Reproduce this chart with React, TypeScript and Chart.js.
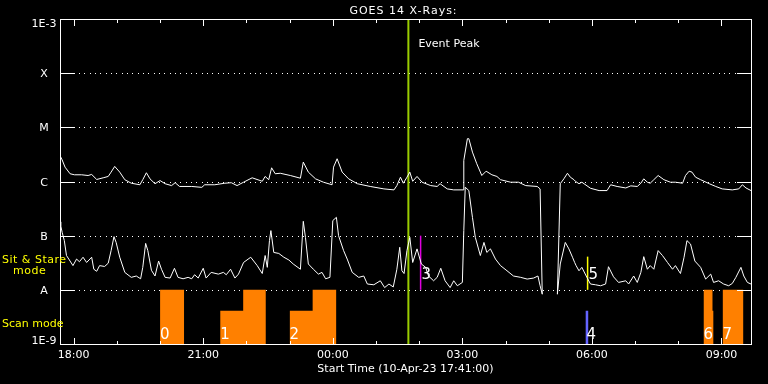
import React, { useEffect, useRef } from 'react';
import { Chart, registerables } from 'chart.js';

Chart.register(...registerables);

const FONT = '"DejaVu Sans", "Liberation Sans", sans-serif';

// ---- Axis definitions (minutes after start 10-Apr-23 17:41:00) ----
const xMin = 0;
const xMax = 960;
const xHourTicks = [19, 79, 139, 199, 259, 319, 379, 439, 499, 559, 619, 679, 739, 799, 859, 919];
const xMajorTicks = [19, 199, 379, 559, 739, 919];
const xMajorLabels = ['18:00', '21:00', '00:00', '03:00', '06:00', '09:00'];
const yTickValues = [1e-9, 1e-8, 1e-7, 1e-6, 1e-5, 1e-4, 1e-3];
const yTickLabels = ['1E-9', 'A', 'B', 'C', 'M', 'X', '1E-3'];
const titleText = 'GOES 14 X-Rays:';
const xTitleText = 'Start Time (10-Apr-23 17:41:00)';

// ---- Long channel (1-8 A) ----
const longTime = [0, 3, 7, 14, 20, 30, 39, 44, 51, 60, 67, 71, 76, 83, 90, 99, 111, 115, 120, 125, 132, 139, 146, 155, 160, 166, 183, 197, 201, 215, 229, 238, 246, 255, 267, 281, 285, 290, 294, 299, 306, 320, 334, 338, 345, 355, 366, 378, 380, 385, 392, 401, 413, 431, 450, 464, 468, 473, 477, 482, 486, 490, 496, 503, 515, 524, 528, 538, 547, 560, 561, 566, 568, 573, 579, 586, 592, 600, 607, 612, 626, 637, 647, 663, 667, 670, 680, 691, 695, 700, 705, 709, 714, 716, 721, 725, 737, 749, 760, 765, 774, 786, 793, 802, 807, 811, 816, 820, 825, 831, 839, 848, 855, 865, 869, 874, 878, 883, 890, 902, 911, 920, 934, 943, 948, 953, 960];
const longFlux = [3.0e-6, 2.5e-6, 1.84e-6, 1.39e-6, 1.33e-6, 1.33e-6, 1.29e-6, 1.35e-6, 1.09e-6, 1.17e-6, 1.24e-6, 1.49e-6, 1.9e-6, 1.49e-6, 1.08e-6, 0.93e-6, 0.87e-6, 1.08e-6, 1.45e-6, 1.12e-6, 0.91e-6, 1.04e-6, 0.91e-6, 0.84e-6, 0.95e-6, 0.81e-6, 0.81e-6, 0.78e-6, 0.87e-6, 0.87e-6, 0.93e-6, 0.95e-6, 0.84e-6, 0.97e-6, 1.17e-6, 1.01e-6, 1.24e-6, 1.08e-6, 1.79e-6, 1.39e-6, 1.42e-6, 1.29e-6, 1.15e-6, 2.28e-6, 1.49e-6, 1.12e-6, 0.97e-6, 0.87e-6, 1.84e-6, 2.63e-6, 1.49e-6, 1.12e-6, 0.91e-6, 0.81e-6, 0.73e-6, 0.7e-6, 0.84e-6, 1.2e-6, 0.93e-6, 1.2e-6, 1.49e-6, 1.01e-6, 1.24e-6, 0.97e-6, 0.84e-6, 0.81e-6, 0.91e-6, 0.73e-6, 0.7e-6, 0.7e-6, 2.45e-6, 6.17e-6, 6.17e-6, 3.49e-6, 2.13e-6, 1.29e-6, 1.55e-6, 1.33e-6, 1.24e-6, 1.08e-6, 0.97e-6, 0.97e-6, 0.84e-6, 0.81e-6, 0.73e-6, 8.3e-9, null, 8.3e-9, 0.91e-6, 1.12e-6, 1.42e-6, 1.2e-6, 1.08e-6, 1.01e-6, 0.91e-6, 0.97e-6, 0.75e-6, 0.68e-6, 0.68e-6, 0.87e-6, 0.81e-6, 0.76e-6, 0.83e-6, 0.81e-6, 0.93e-6, 1.12e-6, 0.97e-6, 0.93e-6, 1.08e-6, 1.29e-6, 1.08e-6, 0.97e-6, 0.97e-6, 0.93e-6, 1.29e-6, 1.55e-6, 1.49e-6, 1.2e-6, 1.08e-6, 0.91e-6, 0.81e-6, 0.73e-6, 0.7e-6, 0.73e-6, 0.87e-6, 0.76e-6, 0.68e-6];

// ---- Short channel (0.5-4 A) ----
const shortTime = [0, 1, 3, 6, 9, 14, 18, 23, 27, 32, 37, 44, 47, 51, 55, 62, 67, 71, 75, 78, 83, 90, 99, 106, 112, 115, 119, 122, 127, 132, 137, 141, 146, 153, 159, 164, 171, 178, 183, 187, 192, 199, 203, 210, 220, 227, 231, 237, 243, 248, 255, 265, 274, 281, 285, 288, 291, 293, 297, 304, 311, 318, 324, 334, 338, 341, 345, 352, 359, 364, 369, 375, 379, 384, 387, 394, 399, 406, 415, 422, 427, 436, 445, 451, 457, 463, 468, 472, 475, 478, 482, 486, 490, 496, 502, 508, 512, 519, 524, 529, 535, 542, 547, 552, 559, 561, 563, 568, 573, 577, 584, 589, 593, 598, 605, 612, 621, 630, 640, 649, 658, 664, 667, 670, 680, 691, 695, 702, 707, 712, 715, 717, 721, 725, 732, 737, 744, 751, 758, 762, 769, 776, 786, 790, 797, 802, 807, 811, 816, 820, 825, 831, 837, 844, 851, 855, 862, 867, 871, 876, 882, 890, 897, 904, 908, 915, 922, 929, 934, 939, 946, 950, 955, 960];
const shortFlux = [1.8e-7, 1.53e-7, 1.15e-7, 0.81e-7, 0.43e-7, 0.34e-7, 0.28e-7, 0.37e-7, 0.33e-7, 0.4e-7, 0.32e-7, 0.4e-7, 0.24e-7, 0.22e-7, 0.28e-7, 0.27e-7, 0.31e-7, 0.53e-7, 0.96e-7, 0.75e-7, 0.4e-7, 0.21e-7, 0.17e-7, 0.18e-7, 0.16e-7, 0.26e-7, 0.72e-7, 0.53e-7, 0.23e-7, 0.18e-7, 0.34e-7, 0.24e-7, 0.17e-7, 0.165e-7, 0.25e-7, 0.17e-7, 0.16e-7, 0.17e-7, 0.16e-7, 0.19e-7, 0.165e-7, 0.25e-7, 0.165e-7, 0.21e-7, 0.195e-7, 0.21e-7, 0.19e-7, 0.24e-7, 0.165e-7, 0.195e-7, 0.32e-7, 0.4e-7, 0.28e-7, 0.2e-7, 0.43e-7, 0.26e-7, 0.81e-7, 1.24e-7, 0.49e-7, 0.47e-7, 0.4e-7, 0.355e-7, 0.3e-7, 0.24e-7, 1.84e-7, 0.93e-7, 0.3e-7, 0.24e-7, 0.195e-7, 0.21e-7, 0.16e-7, 0.17e-7, 1.9e-7, 2.18e-7, 1.0e-7, 0.53e-7, 0.37e-7, 0.21e-7, 0.17e-7, 0.18e-7, 0.128e-7, 0.124e-7, 0.147e-7, 0.11e-7, 0.128e-7, 0.113e-7, 0.24e-7, 0.61e-7, 0.225e-7, 0.2e-7, 0.53e-7, 0.93e-7, 0.32e-7, 0.57e-7, 0.3e-7, 0.26e-7, 0.18e-7, 0.147e-7, 0.17e-7, 0.25e-7, 0.147e-7, 0.11e-7, 0.147e-7, 0.119e-7, 0.137e-7, 1.24e-7, 7.84e-7, 6.81e-7, 2.18e-7, 0.93e-7, 0.43e-7, 0.75e-7, 0.49e-7, 0.57e-7, 0.37e-7, 0.28e-7, 0.225e-7, 0.18e-7, 0.17e-7, 0.158e-7, 0.165e-7, 0.18e-7, 0.119e-7, 0.083e-7, null, 0.083e-7, 0.3e-7, 0.75e-7, 0.57e-7, 0.4e-7, 0.32e-7, 0.28e-7, 0.225e-7, 0.26e-7, 0.17e-7, 0.128e-7, 0.124e-7, 0.119e-7, 0.128e-7, 0.267e-7, 0.174e-7, 0.137e-7, 0.147e-7, 0.128e-7, 0.18e-7, 0.137e-7, 0.21e-7, 0.41e-7, 0.24e-7, 0.28e-7, 0.24e-7, 0.53e-7, 0.43e-7, 0.32e-7, 0.24e-7, 0.28e-7, 0.2e-7, 0.4e-7, 0.81e-7, 0.7e-7, 0.34e-7, 0.26e-7, 0.158e-7, 0.195e-7, 0.137e-7, 0.147e-7, 0.128e-7, 0.119e-7, 0.131e-7, 0.17e-7, 0.26e-7, 0.18e-7, 0.137e-7, 0.128e-7];

// ---- Scan mode blocks ----
const scanStart = [139, 222.5, 254.5, 319, 351, 894, 906.5, 920.5];
const scanEnd = [172.5, 254.5, 286, 351, 384, 906.5, 908, 949.5];
const scanLevel = [1e-8, 4.1e-9, 1e-8, 4.1e-9, 1e-8, 1e-8, 4.1e-9, 1e-8];
const scanLabels = ['0', '1', '2', '6', '7'];
const scanLabelTime = [139, 222.5, 319, 894, 920.5];

// ---- Sit & stare / other markers ----
const blueStart = [730];
const blueEnd = [734.2];
const blueLevel = [4.1e-9];
const blueLabel = '4';
const magentaTime = 501;
const magentaRange = [1e-8, 1e-7];
const magentaLabel = '3';
const yellowTime = 733;
const yellowRange = [1e-8, 4.1e-8];
const yellowLabel = '5';
const stareLabelLevel = 1.6e-8;
const eventPeakTime = 484;
const eventPeakLabel = 'Event Peak';

function toPoints(t: number[], v: (number | null)[]) {
  return t.map((x, i) => ({ x, y: v[i] }));
}

function blockPoints(starts: number[], ends: number[], levels: number[]) {
  const pts: { x: number; y: number | null }[] = [];
  for (let i = 0; i < starts.length; i++) {
    if (i > 0 && starts[i] !== ends[i - 1]) {
      pts.push({ x: (ends[i - 1] + starts[i]) / 2, y: null });
    }
    pts.push({ x: starts[i], y: levels[i] }, { x: ends[i], y: levels[i] });
  }
  return pts;
}

function setSpacing(ctx: any, px: number) {
  if ('letterSpacing' in ctx) ctx.letterSpacing = `${px}px`;
}

const goesPlugin = {
  id: 'goesDecor',
  beforeDraw(chart: any) {
    const ctx = chart.ctx;
    ctx.save();
    ctx.fillStyle = '#000';
    ctx.fillRect(0, 0, chart.width, chart.height);
    ctx.restore();
  },
  beforeDatasetsDraw(chart: any) {
    const ctx = chart.ctx;
    const { left, right } = chart.chartArea;
    const ys = chart.scales.y;
    ctx.save();
    ctx.fillStyle = '#fff';
    yTickValues.forEach((v, i) => {
      if (i === 0 || i === yTickValues.length - 1) return;
      const y = Math.round(ys.getPixelForValue(v));
      for (let x = left + 19; x < right - 14; x += 5.33) {
        ctx.fillRect(Math.round(x), y, 1, 1);
      }
    });
    ctx.restore();
  },
  afterDatasetsDraw(chart: any) {
    const ctx = chart.ctx;
    const { left, right, top, bottom } = chart.chartArea;
    const xs = chart.scales.x;
    const ys = chart.scales.y;
    ctx.save();
    // frame
    ctx.strokeStyle = '#fff';
    ctx.lineWidth = 1;
    ctx.strokeRect(left + 0.5, top + 0.5, right - left, bottom - top);
    // y ticks
    ctx.beginPath();
    yTickValues.forEach((v) => {
      const y = Math.round(ys.getPixelForValue(v)) + 0.5;
      ctx.moveTo(left, y);
      ctx.lineTo(left + 15, y);
      ctx.moveTo(right - 14, y);
      ctx.lineTo(right + 1, y);
    });
    // x ticks
    xHourTicks.forEach((t) => {
      const x = Math.round(xs.getPixelForValue(t)) + 0.5;
      const len = xMajorTicks.includes(t) ? 7 : 4;
      ctx.moveTo(x, top);
      ctx.lineTo(x, top + len);
      ctx.moveTo(x, bottom + 1);
      ctx.lineTo(x, bottom + 1 - len);
    });
    ctx.stroke();

    // text
    ctx.fillStyle = '#fff';
    ctx.font = `11px ${FONT}`;
    ctx.textBaseline = 'alphabetic';
    ctx.textAlign = 'center';
    setSpacing(ctx, 1);
    ctx.fillText(titleText, (left + right) / 2 - 2, 14);
    setSpacing(ctx, 0);
    ctx.fillText(xTitleText, (left + right) / 2, 372);
    xMajorTicks.forEach((t, i) => {
      ctx.fillText(xMajorLabels[i], xs.getPixelForValue(t), 358);
    });
    yTickValues.forEach((v, i) => {
      const y = ys.getPixelForValue(v);
      let base = y + 4;
      if (i === yTickValues.length - 1) base = y + 8;
      if (i === 0) base = y;
      ctx.fillText(yTickLabels[i], 44, base);
    });
    ctx.textAlign = 'left';
    const ex = xs.getPixelForValue(eventPeakTime);
    ctx.fillText(eventPeakLabel, ex + 10, 47);

    ctx.fillStyle = '#ffff00';
    setSpacing(ctx, 0.5);
    ctx.fillText('Sit & Stare', 2, 263);
    ctx.fillText('mode', 13, 274);
    setSpacing(ctx, 0);
    ctx.fillText('Scan mode', 2, 327);

    // block numbers
    ctx.fillStyle = '#fff';
    ctx.font = `15px ${FONT}`;
    const lowBase = ys.getPixelForValue(yTickValues[0]) - 5;
    scanLabels.forEach((lab, i) => {
      ctx.fillText(lab, xs.getPixelForValue(scanLabelTime[i]), lowBase);
    });
    ctx.fillText(blueLabel, xs.getPixelForValue(blueStart[0]) + 1, lowBase);
    const stareBase = ys.getPixelForValue(stareLabelLevel);
    ctx.fillText(magentaLabel, xs.getPixelForValue(magentaTime) + 1, stareBase);
    ctx.fillText(yellowLabel, xs.getPixelForValue(yellowTime) + 1, stareBase);
    ctx.restore();
  },
};

export default function App() {
  const ref = useRef<HTMLCanvasElement | null>(null);
  useEffect(() => {
    if (!ref.current) return;
    const lineBase = { pointRadius: 0, pointHoverRadius: 0, tension: 0, spanGaps: false, fill: false };
    const chart = new Chart(ref.current, {
      type: 'line',
      data: {
        datasets: [
          { ...lineBase, label: 'scan', data: blockPoints(scanStart, scanEnd, scanLevel), borderWidth: 0, borderColor: 'rgba(0,0,0,0)', backgroundColor: '#ff8000', fill: 'start' },
          { ...lineBase, label: 'scan4', data: blockPoints(blueStart, blueEnd, blueLevel), borderWidth: 0, borderColor: 'rgba(0,0,0,0)', backgroundColor: '#6464ff', fill: 'start' },
          { ...lineBase, label: 'long', data: toPoints(longTime, longFlux), borderColor: '#ffffff', borderWidth: 1 },
          { ...lineBase, label: 'short', data: toPoints(shortTime, shortFlux), borderColor: '#ffffff', borderWidth: 1 },
          { ...lineBase, label: 'stare3', data: [{ x: magentaTime, y: magentaRange[0] }, { x: magentaTime, y: magentaRange[1] }], borderColor: '#e000e0', borderWidth: 1.5 },
          { ...lineBase, label: 'stare5', data: [{ x: yellowTime, y: yellowRange[0] }, { x: yellowTime, y: yellowRange[1] }], borderColor: '#ffff00', borderWidth: 1.5 },
          { ...lineBase, label: 'peak', data: [{ x: eventPeakTime, y: yTickValues[0] }, { x: eventPeakTime, y: yTickValues[yTickValues.length - 1] }], borderColor: '#9acd00', borderWidth: 2 },
        ],
      },
      options: {
        responsive: false,
        animation: false,
        events: [],
        layout: { padding: { left: 60, right: 17, top: 19, bottom: 40 } },
        plugins: { legend: { display: false }, tooltip: { enabled: false }, title: { display: false } },
        scales: {
          x: { type: 'linear', min: xMin, max: xMax, display: false },
          y: { type: 'logarithmic', min: yTickValues[0], max: yTickValues[yTickValues.length - 1], display: false },
        },
      },
      plugins: [goesPlugin],
    } as any);
    return () => chart.destroy();
  }, []);
  return (
    <div style={{ position: 'fixed', left: 0, top: 0, width: 768, height: 384, background: '#000' }}>
      <canvas ref={ref} width={768} height={384} style={{ display: 'block', width: 768, height: 384 }} />
    </div>
  );
}
